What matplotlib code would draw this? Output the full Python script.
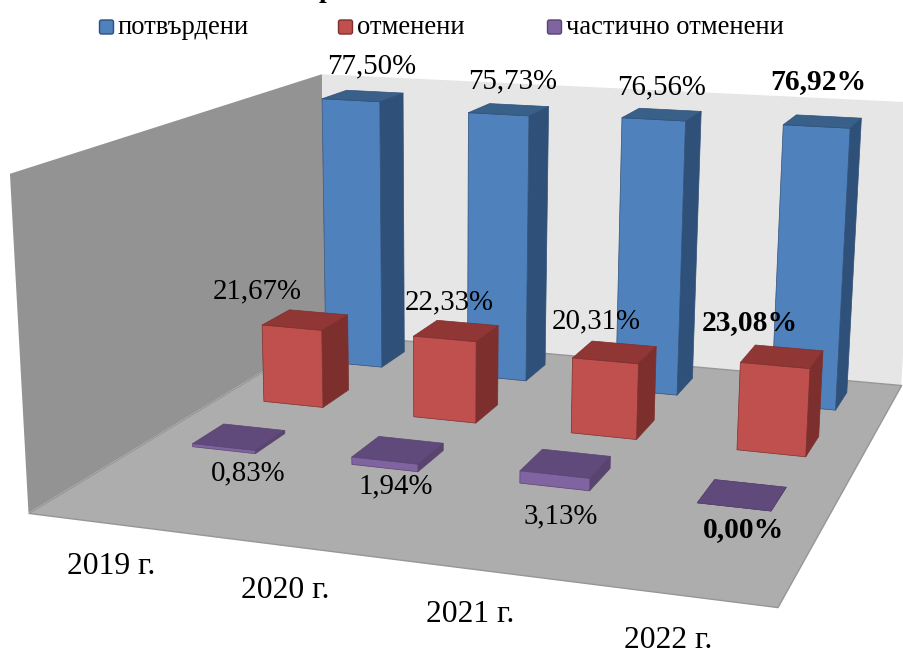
import numpy as np
import matplotlib
matplotlib.use('Agg')
import matplotlib.pyplot as plt
from matplotlib.patches import FancyBboxPatch
from mpl_toolkits.mplot3d.art3d import Poly3DCollection

W, H = 904, 651
plt.rcParams['font.family'] = ['Liberation Serif', 'DejaVu Serif']

years = ['2019 г.', '2020 г.', '2021 г.', '2022 г.']
series_names = ['потвърдени', 'отменени', 'частично отменени']
confirmed = [77.50, 75.73, 76.56, 76.92]
cancelled = [21.67, 22.33, 20.31, 23.08]
partial = [0.83, 1.94, 3.13, 0.00]

# face colours: front, right side, top
blue = ['#4F81BD', '#2F5078', '#386089']
red = ['#C0504D', '#7C2F2D', '#903735']
purple = ['#8064A2', '#59446F', '#604A7B']

Z_MAX = 80
BAR_W = 0.40
BAR_D = 0.31
ROW_Y = {'partial': 1.15, 'cancelled': 1.89, 'confirmed': 2.63}

# where the corners of the chart box sit in the picture (x, y, z) -> (px, py)
box_corners = [
    ((0, 0, 0), (28, 511)),
    ((4, 0, 0), (778, 608)),
    ((4, 3, 0), (901, 384)),
    ((0, 3, 0), (326, 335)),
    ((0, 0, Z_MAX), (10, 175)),
    ((0, 3, Z_MAX), (322, 73)),
    ((4, 3, Z_MAX), (918, 103)),
]


def fit_camera(corners):
    """Solve the 3x4 perspective matrix from the box corners."""
    rows = []
    for (x, y, z), (px, py) in corners:
        py = H - py
        rows.append([x, y, z, 1, 0, 0, 0, 0, -px * x, -px * y, -px * z, -px])
        rows.append([0, 0, 0, 0, x, y, z, 1, -py * x, -py * y, -py * z, -py])
    P = np.linalg.svd(np.array(rows, dtype=float))[2][-1].reshape(3, 4)
    if P[2] @ np.array([2, 1.5, 40, 1]) < 0:
        P = -P
    return P


camera = fit_camera(box_corners)

fig = plt.figure(figsize=(W / 100, H / 100), dpi=100)
ax = fig.add_axes([0, 0, 1, 1], projection='3d', computed_zorder=False)
ax.set_axis_off()
ax.apply_aspect = lambda position=None: None


def get_proj():
    to_data = ax.transData.inverted().get_matrix()
    Q = to_data @ camera
    w_mid = Q[2] @ np.array([2, 1.5, 40, 1])
    depth = Q[2] - np.array([0, 0, 0, 0.5 * w_mid])
    return np.array([Q[0], Q[1], depth, Q[2]])


ax.get_proj = get_proj
ax.set_xlim(0, 4)
ax.set_ylim(0, 3)
ax.set_zlim(0, Z_MAX)

# walls and floor
left_wall = [(0, 0, 0), (0, 3, 0), (0, 3, Z_MAX), (0, 0, Z_MAX)]
back_wall = [(0, 3, 0), (4, 3, 0), (4, 3, Z_MAX), (0, 3, Z_MAX)]
floor = [(0, 0, 0), (4, 0, 0), (4, 3, 0), (0, 3, 0)]
ax.add_collection3d(Poly3DCollection([left_wall], facecolor='#939393', edgecolor='none'))
ax.add_collection3d(Poly3DCollection([back_wall], facecolor='#E6E6E6', edgecolor='none'))
ax.add_collection3d(Poly3DCollection([floor], facecolor='#ADADAD', edgecolor='#969696', linewidth=1))


def draw_bars(values, row, cols):
    none = (0, 0, 0, 0)
    # face order in bar3d: bottom, top, front, back, left, right
    for i, v in enumerate(values):
        faces = [cols[2] if v == 0 else none, cols[2], cols[0], none, none, cols[1]]
        edges = [cols[2] if v == 0 else none, cols[1], cols[1], none, none, cols[1]]
        ax.bar3d(i + 0.5 - BAR_W / 2, row - BAR_D / 2, 0, BAR_W, BAR_D, v,
                 color=faces, edgecolor=edges, linewidth=0.5, shade=False)


draw_bars(confirmed, ROW_Y['confirmed'], blue)
draw_bars(cancelled, ROW_Y['cancelled'], red)
draw_bars(partial, ROW_Y['partial'], purple)


def label(px, py, s, size=20.8, weight='normal'):
    fig.text(px / W, 1 - py / H, s, fontsize=size, fontweight=weight,
             ha='center', va='center', color='black')


def pct(v):
    return f'{v:.2f}'.replace('.', ',') + '%'


confirmed_pos = [(372, 66), (513, 81), (662, 87), (818, 82)]
cancelled_pos = [(257, 291), (449, 302), (596, 321), (750, 323)]
partial_pos = [(248, 473), (396, 486), (561, 516), (744, 530)]
for values, places in zip([confirmed, cancelled, partial],
                          [confirmed_pos, cancelled_pos, partial_pos]):
    for i, (v, (px, py)) in enumerate(zip(values, places)):
        if i == 3:
            label(px, py, pct(v), size=21.3, weight='bold')
        else:
            label(px, py, pct(v))

year_pos = [(111, 566), (285, 590), (470, 614), (668, 640)]
for name, (px, py) in zip(years, year_pos):
    label(px, py, name, size=22.8)

# legend
legend_x = [99, 338, 547]
legend_cols = [blue[0], red[0], purple[0]]
legend_edges = [blue[1], red[1], purple[1]]
for x, name, c, e in zip(legend_x, series_names, legend_cols, legend_edges):
    fig.add_artist(FancyBboxPatch((x + 0.5, H - 34), 14, 14, boxstyle='round,pad=0,rounding_size=2',
                                  transform=None, facecolor=c, edgecolor=e, linewidth=1))
    fig.text((x + 19) / W, 1 - 28 / H, name, fontsize=19.2, ha='left', va='center')

# the title is cut off by the top edge, only a descender shows
fig.text(326 / W, 1 + 3 / H, 'р', fontsize=20, fontweight='bold', ha='center', va='baseline')

fig.savefig('out.png', dpi=100)
